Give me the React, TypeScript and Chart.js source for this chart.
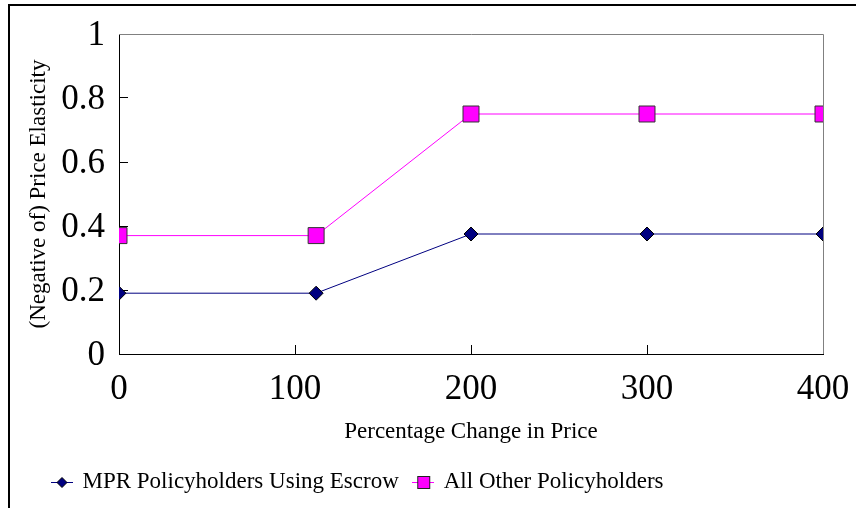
import React, { useEffect, useRef } from 'react';
import { Chart, registerables } from 'chart.js';

Chart.register(...registerables);

// ---- data ----
const priceChange = [0, 112, 200, 300, 400];
const mprEscrow = [0.19, 0.19, 0.375, 0.375, 0.375];
const allOther = [0.37, 0.37, 0.75, 0.75, 0.75];
const seriesNames = ['MPR Policyholders Using Escrow', 'All Other Policyholders'];
const xTickLabels = ['0', '100', '200', '300', '400'];
const yTickLabels = ['0', '0.2', '0.4', '0.6', '0.8', '1'];
const xTitle = 'Percentage Change in Price';
const yTitle = '(Negative of) Price Elasticity';

const SERIF = "'Liberation Serif', 'Times New Roman', Times, serif";
const NAVY = '#000080';
const PINK = '#FF00FF';

function makeDiamondIcon(): HTMLCanvasElement {
  const c = document.createElement('canvas');
  c.width = 22;
  c.height = 14;
  const ctx = c.getContext('2d')!;
  ctx.strokeStyle = NAVY;
  ctx.lineWidth = 1;
  ctx.beginPath();
  ctx.moveTo(0, 7.5);
  ctx.lineTo(22, 7.5);
  ctx.stroke();
  ctx.beginPath();
  ctx.moveTo(6, 7.5);
  ctx.lineTo(11, 2.5);
  ctx.lineTo(16, 7.5);
  ctx.lineTo(11, 12.5);
  ctx.closePath();
  ctx.fillStyle = NAVY;
  ctx.fill();
  ctx.strokeStyle = '#000';
  ctx.stroke();
  return c;
}

function makeSquareIcon(): HTMLCanvasElement {
  const c = document.createElement('canvas');
  c.width = 22;
  c.height = 16;
  const ctx = c.getContext('2d')!;
  ctx.strokeStyle = PINK;
  ctx.lineWidth = 1;
  ctx.beginPath();
  ctx.moveTo(0, 8.5);
  ctx.lineTo(22, 8.5);
  ctx.stroke();
  ctx.fillStyle = PINK;
  ctx.fillRect(5, 2, 13, 13);
  ctx.strokeStyle = '#222';
  ctx.strokeRect(5.5, 2.5, 12, 12);
  return c;
}

const plotFrame = {
  id: 'plotFrame',
  afterDatasetsDraw(chart: any) {
    const { ctx, chartArea: a } = chart;
    ctx.save();
    ctx.strokeStyle = '#808080';
    ctx.lineWidth = 1;
    ctx.beginPath();
    ctx.moveTo(a.left, a.top + 0.5);
    ctx.lineTo(a.right + 0.5, a.top + 0.5);
    ctx.lineTo(a.right + 0.5, a.bottom);
    ctx.stroke();
    ctx.restore();
  },
};

const LEGEND_BOX_H = 62.2;
const legendPlacer = {
  id: 'legendPlacer',
  beforeLayout(chart: any) {
    const lg = chart.legend;
    if (lg && !lg.__wrapped) {
      const orig = lg.fit.bind(lg);
      lg.fit = function () {
        orig();
        this.height = LEGEND_BOX_H;
      };
      lg.__wrapped = true;
    }
  },
  afterLayout(chart: any) {
    const lg = chart.legend;
    if (!lg) return;
    const h = lg.height;
    lg.left = 27.5;
    lg.top = 449;
    lg.bottom = lg.top + h;
  },
};

export default function App() {
  const ref = useRef<HTMLCanvasElement>(null);

  useEffect(() => {
    const canvas = ref.current;
    if (!canvas) return;
    const icons = [makeDiamondIcon(), makeSquareIcon()];

    const chart = new Chart(canvas, {
      type: 'line',
      data: {
        datasets: [
          {
            label: seriesNames[0],
            data: priceChange.map((x, i) => ({ x, y: mprEscrow[i] })),
            borderColor: NAVY,
            borderWidth: 1,
            backgroundColor: NAVY,
            pointStyle: 'rectRot',
            pointRadius: 7,
            pointHoverRadius: 7,
            pointBackgroundColor: NAVY,
            pointBorderColor: '#000',
            pointBorderWidth: 1,
            tension: 0,
            fill: false,
            clip: 0,
          },
          {
            label: seriesNames[1],
            data: priceChange.map((x, i) => ({ x, y: allOther[i] })),
            borderColor: PINK,
            borderWidth: 1,
            backgroundColor: PINK,
            pointStyle: 'rect',
            pointRadius: 11.3,
            pointHoverRadius: 11.3,
            pointBackgroundColor: PINK,
            pointBorderColor: '#333',
            pointBorderWidth: 1,
            tension: 0,
            fill: false,
            clip: 0,
          },
        ],
      },
      options: {
        animation: false,
        responsive: false,
        devicePixelRatio: 1,
        layout: { padding: { left: 0, top: 28, right: 33, bottom: 0 } },
        plugins: {
          tooltip: { enabled: false },
          legend: {
            display: true,
            position: 'bottom',
            align: 'start',
            labels: {
              usePointStyle: true,
              boxWidth: 18,
              padding: 15.5,
              color: '#000',
              font: { family: SERIF, size: 23 },
              generateLabels: (ch: any) => {
                const items = (Chart.defaults.plugins.legend.labels as any).generateLabels(ch);
                items.forEach((it: any, i: number) => {
                  it.pointStyle = icons[i];
                });
                return items;
              },
            },
          },
        },
        scales: {
          x: {
            type: 'linear',
            position: 'bottom',
            min: 0,
            max: 400,
            ticks: {
              stepSize: 100,
              autoSkip: false,
              maxRotation: 0,
              color: '#000',
              padding: 24,
              font: { family: SERIF, size: 35 },
              callback: (_v: any, i: number) => xTickLabels[i],
            },
            grid: {
              display: true,
              drawOnChartArea: false,
              drawTicks: true,
              tickLength: -9,
              color: '#000',
              tickColor: '#000',
              lineWidth: 1,
            },
            border: { display: true, color: '#000', width: 1 },
            title: {
              display: true,
              text: xTitle,
              color: '#000',
              font: { family: SERIF, size: 23 },
              padding: { top: 0, bottom: 0 },
            },
            afterFit: (s: any) => {
              s.height = 91.8;
              s.paddingLeft = 0;
              s.paddingRight = 0;
            },
          },
          y: {
            type: 'linear',
            min: 0,
            max: 1,
            ticks: {
              stepSize: 0.2,
              autoSkip: false,
              color: '#000',
              padding: 23,
              labelOffset: 2,
              font: { family: SERIF, size: 35 },
              callback: (_v: any, i: number) => yTickLabels[i],
            },
            grid: {
              display: true,
              drawOnChartArea: false,
              drawTicks: true,
              tickLength: -9,
              color: '#000',
              tickColor: '#000',
              lineWidth: 1,
            },
            border: { display: true, color: '#000', width: 1 },
            title: {
              display: true,
              text: yTitle,
              color: '#000',
              font: { family: SERIF, size: 23 },
              padding: { top: 15.5, bottom: 0 },
            },
            afterFit: (s: any) => {
              s.width = 109;
              s.paddingTop = 0;
              s.paddingBottom = 0;
            },
          },
        },
      },
      plugins: [plotFrame, legendPlacer],
    } as any);

    return () => chart.destroy();
  }, []);

  return (
    <div
      style={{
        position: 'absolute',
        left: 0,
        top: 0,
        width: 856,
        height: 508,
        overflow: 'hidden',
        background: '#fff',
      }}
    >
      <div
        style={{
          position: 'absolute',
          left: 8,
          top: 4,
          width: 900,
          height: 600,
          boxSizing: 'border-box',
          borderLeft: '2px solid #000',
          borderTop: '2px solid #000',
        }}
      />
      <canvas
        ref={ref}
        width={846}
        height={502}
        style={{ position: 'absolute', left: 10, top: 6, width: 846, height: 502 }}
      />
    </div>
  );
}
